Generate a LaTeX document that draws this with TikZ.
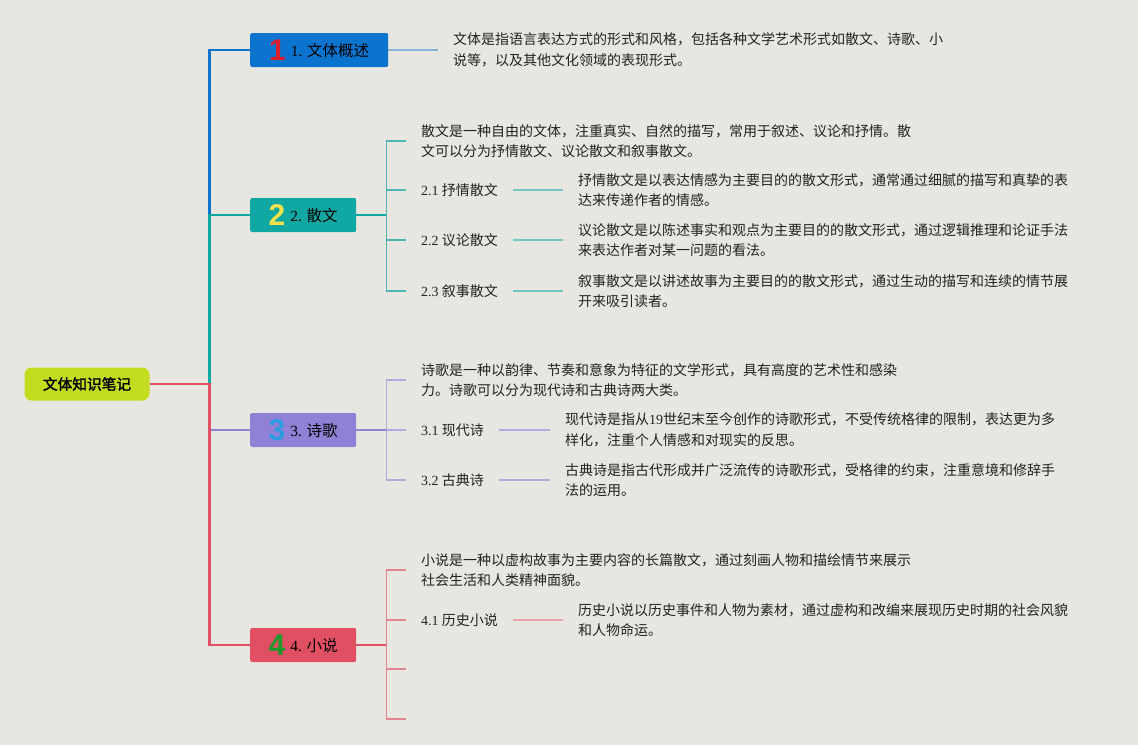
\documentclass[tikz,border=0pt]{standalone}
\usepackage{fontspec}
\setmainfont{Liberation Serif}
\newfontfamily\cjk{Noto Sans CJK SC}
\newfontfamily\cjkbold[FakeBold=2]{Noto Sans CJK SC}
\newfontfamily\numfont{Liberation Sans}
\usepackage{tikz}
\usetikzlibrary{positioning}

\definecolor{bgcol}{HTML}{E8E6E0}
\definecolor{txtcol}{HTML}{222222}
\definecolor{rootcol}{HTML}{C3DC1F}
\definecolor{onecol}{HTML}{0B74CF}
\definecolor{onelight}{HTML}{86B4D6}
\definecolor{twocol}{HTML}{11A7A2}
\definecolor{twomid}{HTML}{4DB6B4}
\definecolor{twolight}{HTML}{74C6C4}
\definecolor{threecol}{HTML}{9181D6}
\definecolor{threemid}{HTML}{B2A9DD}
\definecolor{fourcol}{HTML}{E04F62}
\definecolor{fourmid}{HTML}{E3838F}
\definecolor{fourlight}{HTML}{E9A3AB}
\definecolor{numred}{HTML}{D81E2C}
\definecolor{numyellow}{HTML}{F4E24C}
\definecolor{numblue}{HTML}{2A9BE3}
\definecolor{numgreen}{HTML}{1E9A2A}

\newcommand{\bignum}[2]{\raisebox{-4pt}{\numfont\bfseries\fontsize{30}{30}\selectfont\color{#1}#2}}
\newcommand{\digs}[1]{{\rmfamily #1}}

\begin{document}
\begin{tikzpicture}[x=1pt, y=-1pt,
    topic/.style={rectangle, rounded corners=2pt, anchor=west, minimum width=106pt, minimum height=34pt, inner xsep=0pt, text=black, font=\cjk\fontsize{15.5}{18}\selectfont},
    note/.style={anchor=west, align=left, inner xsep=15pt, inner ysep=0pt, text=txtcol, font=\cjk\fontsize{14}{20.5}\selectfont},
    trunk/.style={line width=2.5pt},
    twig/.style={line width=1.5pt}]
    \useasboundingbox (0,0) rectangle (1138,745);
    \fill[bgcol] (0,0) rectangle (1138,745);

    % Root
    \node[rectangle, rounded corners=7pt, fill=rootcol, minimum width=125pt, minimum height=33pt, text=black, font=\cjkbold\fontsize{14.7}{17}\selectfont] (root) at (87,384) {文体知识笔记};

    % Main topics
    \node[topic, fill=onecol, minimum width=138pt] (b1) at (250,50) {\bignum{numred}{1}\hspace{5pt}\digs{1.} 文体概述};
    \node[topic, fill=twocol] (b2) at (250,215) {\bignum{numyellow}{2}\hspace{5pt}\digs{2.} 散文};
    \node[topic, fill=threecol] (b3) at (250,430) {\bignum{numblue}{3}\hspace{5pt}\digs{3.} 诗歌};
    \node[topic, fill=fourcol] (b4) at (250,645) {\bignum{numgreen}{4}\hspace{5pt}\digs{4.} 小说};

    \draw[trunk, onecol] (root.east) -- ++(60,0) |- (b1.west);
    \draw[trunk, twocol] (root.east) -- ++(60,0) |- (b2.west);
    \draw[trunk, threecol] (root.east) -- ++(60,0) |- (b3.west);
    \draw[trunk, fourcol] (root.east) -- ++(60,0) |- (b4.west);

    % 1. overview
    \node[note] (d1) at (438,50) {文体是指语言表达方式的形式和风格，包括各种文学艺术形式如散文、诗歌、小\\说等，以及其他文化领域的表现形式。};
    \draw[twig, onelight] (b1.east) -- (d1.west);

    % 2. prose
    \node[note] (d2) at (406,141) {散文是一种自由的文体，注重真实、自然的描写，常用于叙述、议论和抒情。散\\文可以分为抒情散文、议论散文和叙事散文。};
    \node[note] (l21) at (406,190) {\digs{2.1} 抒情散文};
    \node[note] (d21) at (563,190) {抒情散文是以表达情感为主要目的的散文形式，通常通过细腻的描写和真挚的表\\达来传递作者的情感。};
    \node[note] (l22) at (406,240) {\digs{2.2} 议论散文};
    \node[note] (d22) at (563,240) {议论散文是以陈述事实和观点为主要目的的散文形式，通过逻辑推理和论证手法\\来表达作者对某一问题的看法。};
    \node[note] (l23) at (406,291) {\digs{2.3} 叙事散文};
    \node[note] (d23) at (563,291) {叙事散文是以讲述故事为主要目的的散文形式，通过生动的描写和连续的情节展\\开来吸引读者。};

    \draw[twig, twocol] (b2.east) -- ++(30,0) coordinate (k2);
    \draw[twig, twomid] (k2) |- (d2.west);
    \draw[twig, twomid] (k2) |- (l21.west);
    \draw[twig, twomid] (k2) |- (l22.west);
    \draw[twig, twomid] (k2) |- (l23.west);
    \draw[twig, twolight] (l21.east) -- (d21.west);
    \draw[twig, twolight] (l22.east) -- (d22.west);
    \draw[twig, twolight] (l23.east) -- (d23.west);

    % 3. poetry
    \node[note] (d3) at (406,380) {诗歌是一种以韵律、节奏和意象为特征的文学形式，具有高度的艺术性和感染\\力。诗歌可以分为现代诗和古典诗两大类。};
    \node[note] (l31) at (406,430) {\digs{3.1} 现代诗};
    \node[note] (d31) at (550,430) {现代诗是指从\digs{19}世纪末至今创作的诗歌形式，不受传统格律的限制，表达更为多\\样化，注重个人情感和对现实的反思。};
    \node[note] (l32) at (406,480) {\digs{3.2} 古典诗};
    \node[note] (d32) at (550,480) {古典诗是指古代形成并广泛流传的诗歌形式，受格律的约束，注重意境和修辞手\\法的运用。};

    \draw[twig, threecol] (b3.east) -- ++(30,0) coordinate (k3);
    \draw[twig, threemid] (k3) |- (d3.west);
    \draw[twig, threemid] (k3) |- (l31.west);
    \draw[twig, threemid] (k3) |- (l32.west);
    \draw[twig, threemid] (l31.east) -- (d31.west);
    \draw[twig, threemid] (l32.east) -- (d32.west);

    % 4. fiction
    \node[note] (d4) at (406,570) {小说是一种以虚构故事为主要内容的长篇散文，通过刻画人物和描绘情节来展示\\社会生活和人类精神面貌。};
    \node[note] (l41) at (406,620) {\digs{4.1} 历史小说};
    \node[note] (d41) at (563,620) {历史小说以历史事件和人物为素材，通过虚构和改编来展现历史时期的社会风貌\\和人物命运。};
    \coordinate (e43) at (406,669);
    \coordinate (e44) at (406,719);

    \draw[twig, fourcol] (b4.east) -- ++(30,0) coordinate (k4);
    \draw[twig, fourmid] (k4) |- (d4.west);
    \draw[twig, fourmid] (k4) |- (l41.west);
    \draw[twig, fourmid] (k4) |- (e43);
    \draw[twig, fourmid] (k4) |- (e44);
    \draw[twig, fourlight] (l41.east) -- (d41.west);
\end{tikzpicture}
\end{document}
